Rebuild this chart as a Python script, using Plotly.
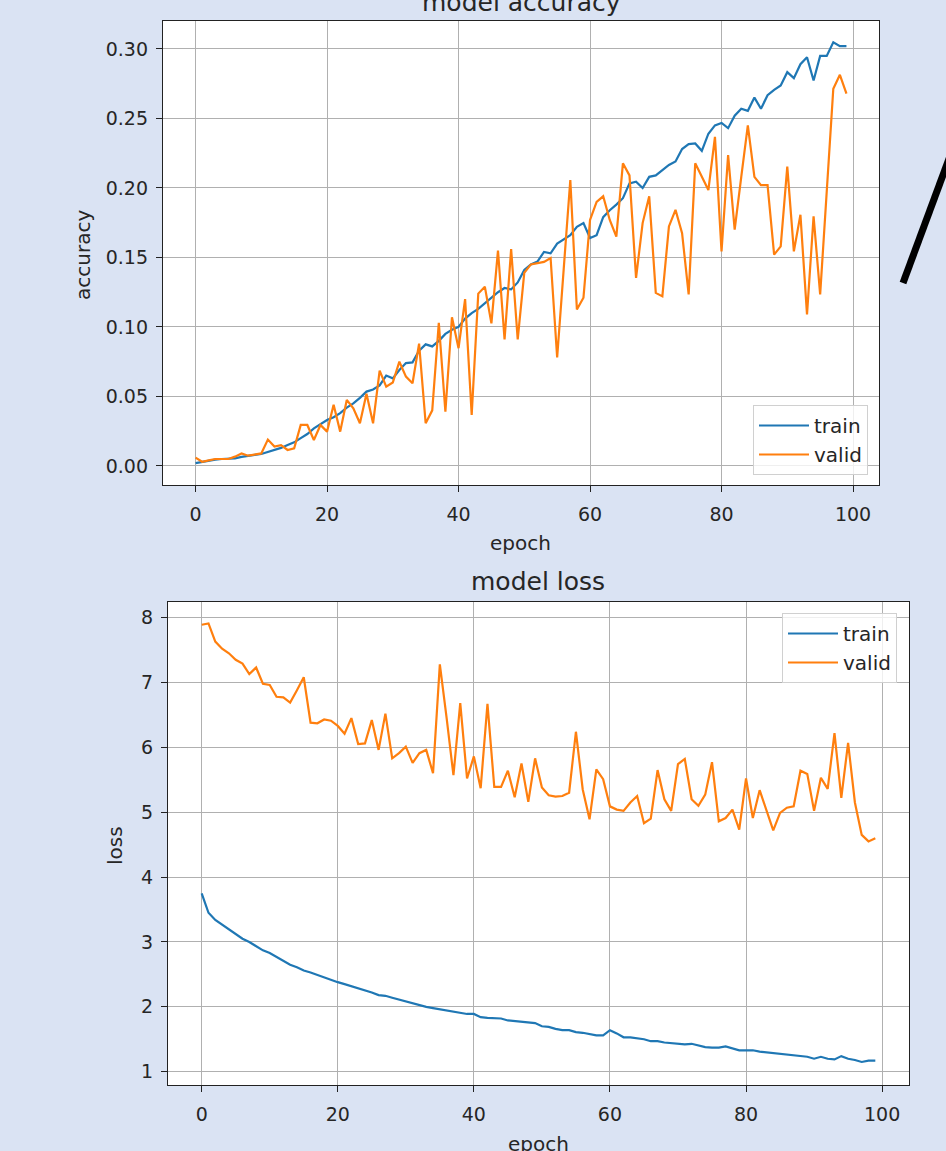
import plotly.graph_objects as go

epochs = list(range(100))

train_acc = [0.002, 0.003, 0.0036, 0.0045, 0.005, 0.005, 0.0055, 0.0065, 0.0074, 0.008,
             0.0086, 0.010, 0.0115, 0.013, 0.015, 0.017, 0.020, 0.023, 0.027, 0.030,
             0.033, 0.035, 0.038, 0.042, 0.045, 0.049, 0.0535, 0.055, 0.058, 0.065,
             0.063, 0.069, 0.074, 0.0745, 0.083, 0.0875, 0.086, 0.090, 0.095, 0.098,
             0.100, 0.106, 0.110, 0.113, 0.117, 0.121, 0.125, 0.128, 0.127, 0.132,
             0.141, 0.145, 0.147, 0.154, 0.153, 0.160, 0.163, 0.166, 0.172, 0.1747,
             0.164, 0.166, 0.179, 0.184, 0.188, 0.1926, 0.2033, 0.2045, 0.200, 0.208,
             0.209, 0.213, 0.2165, 0.219, 0.228, 0.2315, 0.232, 0.2267, 0.239, 0.245,
             0.2468, 0.243, 0.252, 0.257, 0.2555, 0.265, 0.257, 0.2667, 0.2706, 0.2737,
             0.2833, 0.279, 0.289, 0.294, 0.2773, 0.295, 0.295, 0.3048, 0.302, 0.302]

valid_acc = [0.006, 0.003, 0.004, 0.005, 0.005, 0.005, 0.0067, 0.009, 0.0074, 0.0084,
             0.009, 0.019, 0.014, 0.015, 0.0115, 0.0127, 0.0295, 0.0295, 0.0187, 0.0295,
             0.0247, 0.044, 0.0247, 0.0475, 0.0415, 0.0307, 0.052, 0.0307, 0.0686, 0.057,
             0.060, 0.075, 0.0643, 0.0595, 0.088, 0.0307, 0.040, 0.103, 0.039, 0.107,
             0.0847, 0.120, 0.0367, 0.124, 0.129, 0.1026, 0.155, 0.091, 0.156, 0.091,
             0.139, 0.145, 0.146, 0.1468, 0.1496, 0.078, 0.142, 0.2057, 0.1126, 0.121,
             0.177, 0.190, 0.194, 0.177, 0.165, 0.2177, 0.209, 0.1353, 0.1747, 0.194,
             0.1245, 0.122, 0.1723, 0.1842, 0.1675, 0.1234, 0.2177, 0.208, 0.1985, 0.2367,
             0.1544, 0.2236, 0.170, 0.208, 0.245, 0.208, 0.202, 0.202, 0.152, 0.158,
             0.2153, 0.1544, 0.1807, 0.109, 0.1795, 0.1234, 0.200, 0.2714, 0.2814, 0.2678]

train_loss = [3.75, 3.45, 3.34, 3.27, 3.19, 3.12, 3.05, 3.00, 2.94, 2.87,
              2.83, 2.77, 2.70, 2.65, 2.61, 2.56, 2.53, 2.49, 2.45, 2.41,
              2.38, 2.35, 2.32, 2.28, 2.25, 2.22, 2.18, 2.17, 2.14, 2.11,
              2.09, 2.06, 2.03, 2.00, 1.98, 1.96, 1.95, 1.93, 1.90, 1.89,
              1.89, 1.84, 1.83, 1.82, 1.82, 1.79, 1.78, 1.76, 1.75, 1.75,
              1.70, 1.69, 1.66, 1.64, 1.64, 1.61, 1.60, 1.58, 1.56, 1.56,
              1.64, 1.59, 1.53, 1.53, 1.52, 1.50, 1.47, 1.47, 1.45, 1.44,
              1.44, 1.42, 1.43, 1.40, 1.38, 1.37, 1.37, 1.39, 1.36, 1.33,
              1.33, 1.33, 1.31, 1.30, 1.28, 1.28, 1.27, 1.26, 1.25, 1.23,
              1.20, 1.23, 1.20, 1.19, 1.24, 1.20, 1.18, 1.15, 1.17, 1.17]

valid_loss = [7.89, 7.91, 7.63, 7.52, 7.45, 7.35, 7.29, 7.13, 7.23, 6.98,
              6.96, 6.78, 6.77, 6.69, 6.88, 7.08, 6.38, 6.37, 6.43, 6.41,
              6.33, 6.21, 6.45, 6.05, 6.06, 6.42, 5.96, 6.52, 5.83, 5.91,
              6.01, 5.76, 5.91, 5.96, 5.60, 7.28, 6.45, 5.57, 6.68, 5.52,
              5.86, 5.37, 6.67, 5.39, 5.39, 5.64, 5.23, 5.75, 5.16, 5.83,
              5.38, 5.26, 5.24, 5.25, 5.30, 6.24, 5.35, 4.89, 5.66, 5.51,
              5.09, 5.04, 5.02, 5.15, 5.25, 4.83, 4.90, 5.65, 5.20, 5.02,
              5.74, 5.82, 5.20, 5.10, 5.27, 5.77, 4.86, 4.91, 5.04, 4.73,
              5.52, 4.91, 5.34, 5.04, 4.72, 4.99, 5.07, 5.09, 5.64, 5.59,
              5.02, 5.53, 5.36, 6.22, 5.22, 6.07, 5.15, 4.65, 4.55, 4.60]

x_ticks = [0, 20, 40, 60, 80, 100]
acc_ticks = [0.00, 0.05, 0.10, 0.15, 0.20, 0.25, 0.30]
loss_ticks = [1, 2, 3, 4, 5, 6, 7, 8]

W, H = 946, 1151
BLUE = "#1f77b4"
ORANGE = "#ff7f0e"
TXT = "#262626"
FONT = "DejaVu Sans"


def px_x(p):
    return p / W


def px_y(p):
    return 1 - p / H


fig = go.Figure()
fig.add_trace(go.Scatter(x=epochs, y=train_acc, mode="lines", name="train",
                         line=dict(color=BLUE, width=2.2), xaxis="x", yaxis="y", legend="legend"))
fig.add_trace(go.Scatter(x=epochs, y=valid_acc, mode="lines", name="valid",
                         line=dict(color=ORANGE, width=2.2), xaxis="x", yaxis="y", legend="legend"))
fig.add_trace(go.Scatter(x=epochs, y=train_loss, mode="lines", name="train",
                         line=dict(color=BLUE, width=2.2), xaxis="x2", yaxis="y2", legend="legend2"))
fig.add_trace(go.Scatter(x=epochs, y=valid_loss, mode="lines", name="valid",
                         line=dict(color=ORANGE, width=2.2), xaxis="x2", yaxis="y2", legend="legend2"))

axis_common = dict(showgrid=True, gridcolor="#b0b0b0", gridwidth=1.2, showline=True,
                   linecolor="#222222", linewidth=1.3, mirror=True, ticks="outside",
                   ticklen=6, tickwidth=1.2, tickcolor="#222222", zeroline=False,
                   tickfont=dict(family=FONT, size=19, color=TXT))

legend_common = dict(bgcolor="rgba(255,255,255,0.8)", bordercolor="#d0d0d0", borderwidth=1,
                     itemwidth=50, font=dict(family=FONT, size=20, color=TXT))

fig.update_layout(
    width=W, height=H,
    margin=dict(l=0, r=0, t=0, b=0),
    paper_bgcolor="#dae3f3",
    plot_bgcolor="white",
    font=dict(family=FONT, color=TXT),
    xaxis=dict(domain=[px_x(163), px_x(879)], anchor="y", range=[-4.95, 103.95],
               tickvals=x_ticks, ticklabelstandoff=6, **axis_common),
    yaxis=dict(domain=[px_y(485), px_y(21)], anchor="x", range=[-0.0137, 0.3201],
               tickvals=acc_ticks, tickformat=".2f", ticklabelstandoff=4, **axis_common),
    xaxis2=dict(domain=[px_x(168), px_x(909)], anchor="y2", range=[-4.95, 103.95],
                tickvals=x_ticks, ticklabelstandoff=6, **axis_common),
    yaxis2=dict(domain=[px_y(1085), px_y(602)], anchor="x2", range=[0.795, 8.24],
                tickvals=loss_ticks, ticklabelstandoff=4, **axis_common),
    legend=dict(x=px_x(868), y=px_y(475), xanchor="right", yanchor="bottom", **legend_common),
    legend2=dict(x=px_x(897), y=px_y(613), xanchor="right", yanchor="top", **legend_common),
    showlegend=True,
)

annotations = [
    dict(text="model accuracy", x=px_x(521), y=px_y(2), size=25, angle=0),
    dict(text="model loss", x=px_x(538), y=px_y(581), size=25, angle=0),
    dict(text="epoch", x=px_x(520), y=px_y(543), size=20, angle=0),
    dict(text="epoch", x=px_x(538), y=px_y(1144), size=20, angle=0),
    dict(text="accuracy", x=px_x(83), y=px_y(255), size=20, angle=-90),
    dict(text="loss", x=px_x(115), y=px_y(846), size=20, angle=-90),
]
for a in annotations:
    fig.add_annotation(text=a["text"], x=a["x"], y=a["y"], xref="paper", yref="paper",
                       xanchor="center", yanchor="middle", showarrow=False,
                       textangle=a["angle"], font=dict(family=FONT, size=a["size"], color=TXT))

# hand-drawn black stroke on the right side of the picture
fig.add_shape(type="line", xref="paper", yref="paper",
              x0=px_x(903), y0=px_y(283), x1=px_x(960), y1=px_y(129),
              line=dict(color="black", width=7))

fig.write_html(
    "out.html",
    config={"displayModeBar": False},
    post_script="document.body.style.margin='0';document.body.style.overflow='hidden';"
                "document.documentElement.style.overflow='hidden';",
)
